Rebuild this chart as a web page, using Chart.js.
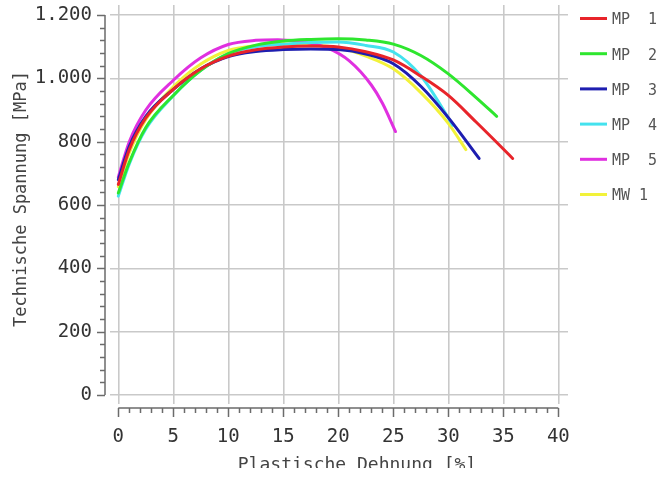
<!DOCTYPE html>
<html lang="de">
<head>
<meta charset="utf-8">
<title>Technische Spannung über plastischer Dehnung</title>
<script src="https://cdn.jsdelivr.net/npm/chart.js@4/dist/chart.umd.min.js"></script>
<style>
  html, body { margin: 0; padding: 0; background: #fff; }
  #wrap { width: 663px; height: 478px; position: relative; }
</style>
</head>
<body>
<div id="wrap"><canvas id="c" width="663" height="478"></canvas></div>
<script>
// Plastic strain [%] and engineering stress [MPa] for each specimen
const strainMP1 = [0, 1, 2.5, 5, 7.5, 10, 12.5, 15, 17.5, 20, 22.5, 25, 27.5, 30, 32.5, 35, 35.85];
const stressMP1 = [665, 775, 875, 965, 1030, 1070, 1090, 1099, 1102, 1099, 1084, 1058, 1007, 946, 863, 777, 747];

const strainMP2 = [0, 1, 2.5, 5, 7.5, 10, 12.5, 15, 17.5, 20, 22.5, 25, 27.5, 30, 32.5, 34.4];
const stressMP2 = [638, 735, 845, 946, 1025, 1078, 1105, 1118, 1123, 1125, 1121, 1108, 1072, 1014, 940, 880];

const strainMP3 = [0, 1, 2.5, 5, 7.5, 10, 12.5, 15, 17.5, 20, 22.5, 25, 27.5, 30, 32.8];
const stressMP3 = [680, 785, 880, 965, 1030, 1069, 1085, 1091, 1093, 1091, 1077, 1046, 975, 876, 747];

const strainMP4 = [0, 1, 2.5, 5, 7.5, 10, 12.5, 15, 17.5, 20, 22.5, 25, 27.5, 30, 30.4];
const stressMP4 = [628, 730, 840, 945, 1025, 1078, 1100, 1108, 1113, 1115, 1104, 1083, 1008, 875, 852];

const strainMP5 = [0, 1, 2.5, 5, 7.5, 10, 12.5, 14.5, 17, 19, 21, 23, 24, 25.2];
const stressMP5 = [688, 800, 900, 994, 1065, 1107, 1120, 1122, 1114, 1096, 1055, 979, 922, 832];

const strainMW1 = [0, 1, 2.5, 5, 7.5, 10, 12.5, 15, 17.5, 20, 22.5, 25, 27.5, 30, 31.6];
const stressMW1 = [658, 765, 870, 973, 1045, 1088, 1103, 1109, 1105, 1097, 1070, 1030, 955, 858, 775];

const seriesNames  = ['MP  1', 'MP  2', 'MP  3', 'MP  4', 'MP  5', 'MW 1'];
const seriesColors = ['#e8242a', '#2ee62e', '#1e1eb0', '#44e2ee', '#e030e0', '#f2f23a'];

// Axis ticks and their labels
const xTickValues = [0, 5, 10, 15, 20, 25, 30, 35, 40];
const xTickLabels = ['0', '5', '10', '15', '20', '25', '30', '35', '40'];
const yTickValues = [0, 200, 400, 600, 800, 1000, 1200];
const yTickLabels = ['0', '200', '400', '600', '800', '1.000', '1.200'];
const xMinorPerMajor = 5;
const yMinorPerMajor = 5;

const xTitle = 'Plastische Dehnung [%]';
const yTitle = 'Technische Spannung [MPa]';

const MONO = '"DejaVu Sans Mono", "Liberation Mono", monospace';

const strains  = [strainMP1, strainMP2, strainMP3, strainMP4, strainMP5, strainMW1];
const stresses = [stressMP1, stressMP2, stressMP3, stressMP4, stressMP5, stressMW1];

const datasets = seriesNames.map((name, s) => ({
  label: name,
  data: strains[s].map((x, i) => ({ x: x, y: stresses[s][i] })),
  borderColor: seriesColors[s],
  backgroundColor: seriesColors[s],
  borderWidth: 3,
  pointRadius: 0,
  pointHoverRadius: 0,
  fill: false,
  cubicInterpolationMode: 'monotone',
  borderCapStyle: 'round',
  borderJoinStyle: 'round'
}));

// Offset axis frame with major and minor tick marks, axis titles and legend
const frame = {
  id: 'frame',
  afterDraw(chart) {
    const { ctx, chartArea, scales } = chart;
    const xs = scales.x, ys = scales.y;
    const axisX = chartArea.left - 5;
    const axisY = chartArea.bottom + 4;
    const xFirst = xTickValues[0], xLast = xTickValues[xTickValues.length - 1];
    const yFirst = yTickValues[0], yLast = yTickValues[yTickValues.length - 1];
    const xStep = (xTickValues[1] - xTickValues[0]) / xMinorPerMajor;
    const yStep = (yTickValues[1] - yTickValues[0]) / yMinorPerMajor;

    ctx.save();
    ctx.strokeStyle = '#6b6b6b';
    ctx.lineWidth = 1.5;
    ctx.beginPath();
    // y axis
    ctx.moveTo(axisX, ys.getPixelForValue(yFirst));
    ctx.lineTo(axisX, ys.getPixelForValue(yLast));
    for (let k = 0; k <= (yLast - yFirst) / yStep + 0.001; k++) {
      const p = Math.round(ys.getPixelForValue(yFirst + k * yStep)) + 0.5;
      const len = (k % yMinorPerMajor === 0) ? 8 : 5;
      ctx.moveTo(axisX, p);
      ctx.lineTo(axisX - len, p);
    }
    // x axis
    ctx.moveTo(xs.getPixelForValue(xFirst), axisY);
    ctx.lineTo(xs.getPixelForValue(xLast), axisY);
    for (let k = 0; k <= (xLast - xFirst) / xStep + 0.001; k++) {
      const p = Math.round(xs.getPixelForValue(xFirst + k * xStep)) + 0.5;
      const len = (k % xMinorPerMajor === 0) ? 9 : 5;
      ctx.moveTo(p, axisY);
      ctx.lineTo(p, axisY + len);
    }
    ctx.stroke();

    // axis titles
    ctx.fillStyle = '#444';
    ctx.font = '17px ' + MONO;
    ctx.textAlign = 'center';
    ctx.textBaseline = 'middle';
    ctx.save();
    ctx.translate(22, 199);
    ctx.rotate(-Math.PI / 2);
    ctx.fillText(yTitle, 0, 0);
    ctx.restore();

    ctx.save();
    ctx.beginPath();
    ctx.rect(0, 0, chart.width, 468);
    ctx.clip();
    ctx.font = '18px ' + MONO;
    ctx.textBaseline = 'alphabetic';
    ctx.fillText(xTitle, 357, 470);
    ctx.restore();

    // legend
    const lx = chartArea.right + 12;
    ctx.font = '15px ' + MONO;
    ctx.textAlign = 'left';
    ctx.textBaseline = 'middle';
    chart.data.datasets.forEach((ds, i) => {
      const cy = 18.5 + i * 35.2;
      ctx.strokeStyle = ds.borderColor;
      ctx.lineWidth = 3;
      ctx.beginPath();
      ctx.moveTo(lx, cy);
      ctx.lineTo(lx + 27, cy);
      ctx.stroke();
      ctx.fillStyle = '#555';
      ctx.fillText(ds.label, lx + 32, cy + 2);
    });
    ctx.restore();
  }
};

new Chart(document.getElementById('c'), {
  type: 'line',
  data: { datasets: datasets },
  plugins: [frame],
  options: {
    responsive: false,
    animation: false,
    events: [],
    layout: { padding: { top: 5, right: 95, left: 0, bottom: 0 } },
    plugins: {
      legend: { display: false },
      tooltip: { enabled: false }
    },
    scales: {
      x: {
        type: 'linear',
        min: -0.755,
        max: 40.88,
        afterFit: s => { s.height = 74; s.paddingLeft = 0; s.paddingRight = 0; },
        afterBuildTicks: s => { s.ticks = xTickValues.map(v => ({ value: v })); },
        grid: { color: '#c9c9c9', lineWidth: 1.6, drawTicks: false },
        border: { display: false },
        ticks: {
          padding: 22,
          color: '#333',
          font: { family: MONO, size: 19 },
          maxRotation: 0,
          callback: v => xTickLabels[xTickValues.indexOf(v)]
        }
      },
      y: {
        type: 'linear',
        min: -28.4,
        max: 1231.6,
        afterFit: s => { s.width = 110; s.paddingTop = 0; s.paddingBottom = 0; },
        afterBuildTicks: s => { s.ticks = yTickValues.map(v => ({ value: v })); },
        grid: { color: '#c9c9c9', lineWidth: 1.6, drawTicks: false },
        border: { display: false },
        ticks: {
          padding: 18,
          color: '#333',
          font: { family: MONO, size: 19 },
          callback: v => yTickLabels[yTickValues.indexOf(v)]
        }
      }
    }
  }
});
</script>
</body>
</html>
